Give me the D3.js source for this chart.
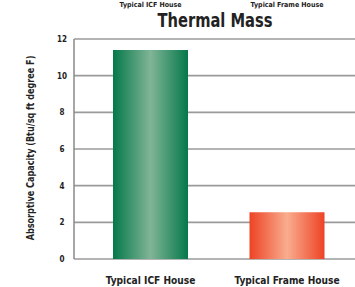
<!DOCTYPE html>
<html>
<head>
<meta charset="utf-8">
<script src="https://cdn.jsdelivr.net/npm/d3@7"></script>
<style>
  body { margin: 0; background: #fff; }
  svg { display: block; }
  text { font-family: "DejaVu Sans Condensed", "Liberation Sans Narrow", sans-serif; font-weight: bold; fill: #222; }
</style>
</head>
<body>
<svg id="chart" width="355" height="287"></svg>
<script>
const categories = ["Typical ICF House", "Typical Frame House"];
const values = [11.4, 2.55];
const yTicks = [0, 2, 4, 6, 8, 10, 12];
const title = "Thermal Mass";
const yLabel = "Absorptive Capacity (Btu/sq ft degree F)";

const svg = d3.select("#chart");
const margin = {left: 74, top: 39, bottom: 259};

var scale = {
    x: d3.scaleBand().domain(categories).range([82.25, 355.25]).padding(0),
    y: d3.scaleLinear().domain([0, 12]).range([259, 39])
};
// bars are narrower than the band
const barW = 75;
const cx = (d) => scale.x(d) + scale.x.bandwidth() / 2;

// gradients
const defs = svg.append("defs");
const grads = [
    {id: "gGreen", edge: "#05784a", mid: "#80b597"},
    {id: "gRed", edge: "#ee4224", mid: "#f9ad8f"}
];
grads.forEach((g) => {
    let lg = defs.append("linearGradient").attr("id", g.id).attr("x1", "0").attr("x2", "1").attr("y1", "0").attr("y2", "0");
    lg.append("stop").attr("offset", "0").attr("stop-color", g.edge);
    lg.append("stop").attr("offset", "0.5").attr("stop-color", g.mid);
    lg.append("stop").attr("offset", "1").attr("stop-color", g.edge);
});

// gridlines
svg.append("g").selectAll("line").data(yTicks).join("line")
    .attr("x1", margin.left).attr("x2", 355)
    .attr("y1", (d) => scale.y(d)).attr("y2", (d) => scale.y(d))
    .attr("stroke", "#9a9a9a").attr("stroke-width", 1.6);

// left axis line
svg.append("line").attr("x1", margin.left).attr("x2", margin.left)
    .attr("y1", scale.y(12)).attr("y2", scale.y(0))
    .attr("stroke", "#8a8a8a").attr("stroke-width", 1.5);

// tick labels
svg.append("g").selectAll("text").data(yTicks).join("text")
    .attr("x", 62).attr("y", (d) => scale.y(d) + 3)
    .attr("text-anchor", "middle").attr("font-size", 8)
    .text((d) => d);

// bars
svg.append("g").selectAll("rect").data(values).join("rect")
    .attr("x", (d, i) => cx(categories[i]) - barW / 2)
    .attr("width", barW)
    .attr("y", (d) => scale.y(d))
    .attr("height", (d) => scale.y(0) - scale.y(d))
    .attr("fill", (d, i) => `url(#${grads[i].id})`);

// category labels
svg.append("g").selectAll("text").data(categories).join("text")
    .attr("x", (d) => cx(d))
    .attr("y", 284)
    .attr("text-anchor", "middle").attr("font-size", 11)
    .attr("transform", (d) => `translate(${cx(d)},0) scale(0.92,1) translate(${-cx(d)},0)`)
    .text((d) => d);

// legend labels at the top (cut off in the source, kept visible here)
svg.append("g").selectAll("text").data(categories).join("text")
    .attr("x", (d) => cx(d))
    .attr("y", 7)
    .attr("text-anchor", "middle").attr("font-size", 7).attr("fill", "#555")
    .text((d) => d);

// title
svg.append("text").attr("x", 215).attr("y", 27)
    .attr("text-anchor", "middle").attr("font-size", 19)
    .attr("transform", "translate(215,0) scale(0.86,1) translate(-215,0)")
    .text(title);

// y label
svg.append("text")
    .attr("transform", "translate(34,148) rotate(-90) scale(0.9,1)")
    .attr("text-anchor", "middle").attr("font-size", 10).attr("font-weight", "normal")
    .text(yLabel);
</script>
</body>
</html>
